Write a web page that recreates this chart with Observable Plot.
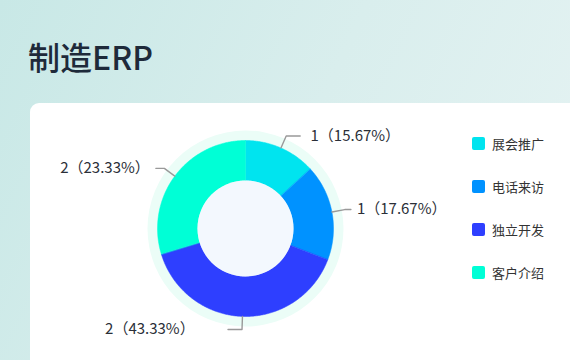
<!DOCTYPE html>
<html>
<head>
<meta charset="utf-8">
<script src="https://cdn.jsdelivr.net/npm/d3@7"></script>
<script src="https://cdn.jsdelivr.net/npm/@observablehq/plot@0.6"></script>
<style>
  html, body { margin: 0; padding: 0; }
  body {
    width: 570px; height: 360px; overflow: hidden; position: relative;
    background: linear-gradient(115deg, #c8e8e6 0%, #d9eeed 50%, #e6f3f3 100%);
    font-family: "Noto Sans CJK SC", "Noto Sans", sans-serif;
  }
  #title {
    position: absolute; left: 28px; top: 38px;
    font-size: 32px; line-height: 36px; font-weight: 500; color: #1e2a3a;
    font-family: "Noto Sans CJK SC Medium", "Noto Sans CJK SC", sans-serif;
  }
  #card {
    position: absolute; left: 30px; top: 103px; width: 560px; height: 280px;
    background: #fff; border-radius: 9px;
  }
  #chart { position: absolute; left: 0; top: 0; }
  #legend {
    position: absolute; left: 472px; top: 136px;
    display: flex; flex-direction: column; gap: 29.3px;
  }
  .item { display: flex; align-items: center; height: 14px; font-size: 13px; color: #333; }
  .sw { width: 13px; height: 13px; border-radius: 2px; margin-right: 7px; }
</style>
</head>
<body>
<div id="title">制造ERP</div>
<div id="card"></div>
<div id="chart"></div>
<div id="legend"></div>
<script>
// ---- data ----
const categories = ["展会推广", "电话来访", "独立开发", "客户介绍"];
const counts = [1, 1, 2, 2];
const percentLabels = ["15.67", "17.67", "43.33", "23.33"];
// share of the ring each slice occupies as drawn (percent of full circle)
const arcShare = [13.2, 17.6, 39.5, 29.7];
const colors = ["#00e4ef", "#0092ff", "#2e3fff", "#00ffd6"];

// ---- layout ----
const W = 570, H = 360;
const cx = 245, cy = 228;
const rOuter = 88, rInner = 48, rHalo = 98;
const len1 = 13, len2 = 14, gap = 6, rText = 113;

const polar = (r, a) => ({x: cx + r * Math.sin(a), y: cy - r * Math.cos(a)});

let acc = 0;
const slices = categories.map((name, i) => {
  const a0 = acc / 100 * 2 * Math.PI;
  acc += arcShare[i];
  const a1 = acc / 100 * 2 * Math.PI;
  return {name, i, a0, a1, mid: (a0 + a1) / 2};
});

// polygon points for each ring slice
const slicePts = slices.flatMap(s => {
  const n = Math.max(4, Math.ceil((s.a1 - s.a0) / 0.01));
  const out = [];
  for (let k = 0; k <= n; k++) {
    const p = polar(rOuter, s.a0 + (s.a1 - s.a0) * k / n);
    out.push({name: s.name, ...p});
  }
  for (let k = n; k >= 0; k--) {
    const p = polar(rInner, s.a0 + (s.a1 - s.a0) * k / n);
    out.push({name: s.name, ...p});
  }
  return out;
});

// leader lines and labels (text placed on a circle around the ring, like ECharts)
const linePts = [];
const labels = [];
slices.forEach(s => {
  const right = Math.sin(s.mid) >= 0;
  const dir = right ? 1 : -1;
  const p0 = polar(rOuter, s.mid);
  const p1 = polar(rOuter + len1, s.mid);
  const dy = p1.y - cy;
  const tx = cx + dir * Math.sqrt(Math.max(0, rText * rText - dy * dy));
  let endX = right ? Math.min(p1.x + len2, tx - gap) : Math.max(p1.x - len2, tx + gap);
  if (right) endX = Math.max(endX, p1.x); else endX = Math.min(endX, p1.x);
  const textX = right ? Math.max(tx, endX + gap) : Math.min(tx, endX - gap);
  const p2 = {x: endX, y: p1.y};
  [p0, p1, p2].forEach(p => linePts.push({name: s.name, ...p}));
  labels.push({
    x: textX, y: p1.y,
    anchor: right ? "start" : "end",
    text: `${counts[s.i]}（${percentLabels[s.i]}%）`
  });
});

const center = [{x: cx, y: cy}];

const plot = Plot.plot({
  width: W, height: H,
  margin: 0,
  style: {background: "transparent", overflow: "visible"},
  x: {domain: [0, W], range: [0, W], axis: null},
  y: {domain: [0, H], range: [0, H], axis: null},
  color: {domain: categories, range: colors},
  marks: [
    Plot.dot(center, {x: "x", y: "y", r: rHalo, fill: "#ebfdf7", stroke: null}),
    Plot.line(slicePts, {x: "x", y: "y", z: "name", fill: "name", stroke: "name", strokeWidth: 0.5, curve: "linear-closed"}),
    Plot.dot(center, {x: "x", y: "y", r: rInner, fill: "#f3f8fe", stroke: null}),
    Plot.line(linePts, {x: "x", y: "y", z: "name", stroke: "#999", strokeWidth: 1.4}),
    Plot.text(labels.filter(d => d.anchor === "start"), {x: "x", y: "y", text: "text", textAnchor: "start", fontSize: 15, fill: "#2b2f38", fontFamily: "Noto Sans CJK SC"}),
    Plot.text(labels.filter(d => d.anchor === "end"), {x: "x", y: "y", text: "text", textAnchor: "end", fontSize: 15, fill: "#2b2f38", fontFamily: "Noto Sans CJK SC"})
  ]
});
document.getElementById("chart").appendChild(plot);

const legend = document.getElementById("legend");
categories.forEach((c, i) => {
  const item = document.createElement("div");
  item.className = "item";
  const sw = document.createElement("div");
  sw.className = "sw";
  sw.style.background = colors[i];
  const t = document.createElement("span");
  t.textContent = c;
  item.appendChild(sw);
  item.appendChild(t);
  legend.appendChild(item);
});
</script>
</body>
</html>
